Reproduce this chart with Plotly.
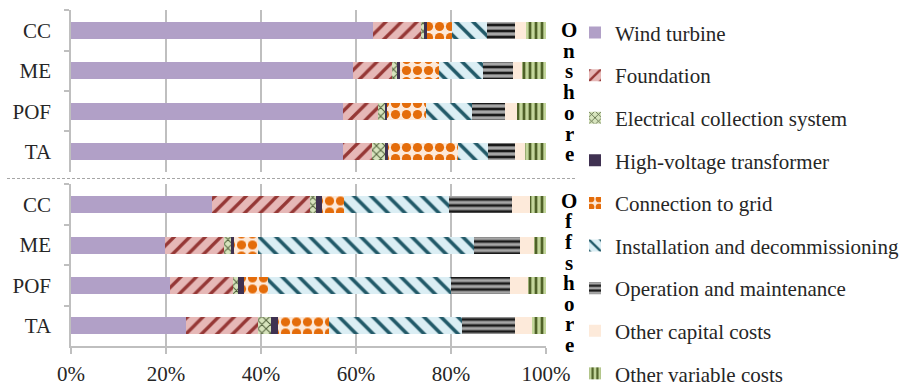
import plotly.graph_objects as go
from plotly.subplots import make_subplots

# Cost-share breakdown (%) of wind power, per allocation method
categories = ["CC", "ME", "POF", "TA"]
components = [
    "Wind turbine",
    "Foundation",
    "Electrical collection system",
    "High-voltage transformer",
    "Connection to grid",
    "Installation and decommissioning",
    "Operation and maintenance",
    "Other capital costs",
    "Other variable costs",
]

# One list per method, values in the order of `components`
onshore_cc = [63.6, 10.1, 0.6, 0.6, 5.4, 7.2, 6.0, 2.2, 4.3]
onshore_me = [59.3, 8.3, 1.0, 0.6, 8.3, 9.3, 6.3, 1.8, 5.1]
onshore_pof = [57.2, 7.5, 1.6, 0.3, 8.1, 9.8, 6.9, 2.4, 6.2]
onshore_ta = [57.2, 6.1, 2.9, 0.6, 14.6, 6.3, 5.8, 2.1, 4.4]

offshore_cc = [29.7, 20.6, 1.2, 1.3, 4.7, 22.1, 13.2, 3.8, 3.4]
offshore_me = [19.8, 12.4, 1.4, 0.7, 5.1, 45.5, 9.6, 3.0, 2.5]
offshore_pof = [20.8, 13.2, 1.1, 1.3, 5.1, 38.4, 12.5, 3.9, 3.7]
offshore_ta = [24.3, 15.1, 2.8, 1.4, 10.7, 28.1, 11.1, 3.6, 2.9]

x_ticks = [0, 20, 40, 60, 80, 100]

onshore = [onshore_cc, onshore_me, onshore_pof, onshore_ta]
offshore = [offshore_cc, offshore_me, offshore_pof, offshore_ta]

# Fill styles (pattern shape, foreground, background, size)
styles = [
    dict(shape="", fg="#B1A0C7", bg="#B1A0C7", size=8),
    dict(shape="/", fg="#953735", bg="#E6B8B7", size=11),
    dict(shape="x", fg="#4F5F3A", bg="#D7E4BD", size=6),
    dict(shape="", fg="#3F3151", bg="#3F3151", size=8),
    dict(shape=".", fg="#E46C0A", bg="#FDE9D9", size=11, solidity=0.55),
    dict(shape="\\", fg="#215968", bg="#DBEEF4", size=12),
    dict(shape="-", fg="#1A1A1A", bg="#A6A6A6", size=6, solidity=0.45),
    dict(shape="", fg="#FDEADA", bg="#FDEADA", size=8),
    dict(shape="|", fg="#4F6228", bg="#C3D69B", size=6, solidity=0.45),
]

SERIF = "Liberation Serif, Times New Roman, serif"
GRID = "#BFBFBF"
TXT = "#262626"

fig = make_subplots(rows=2, cols=1)

for row, table in ((1, onshore), (2, offshore)):
    for i, name in enumerate(components):
        st = styles[i]
        pattern = dict(shape=st["shape"], fgcolor=st["fg"], bgcolor=st["bg"],
                       size=st["size"], solidity=st.get("solidity", 0.3),
                       fillmode="replace")
        fig.add_trace(
            go.Bar(
                y=categories,
                x=[vals[i] for vals in table],
                name=name,
                orientation="h",
                legendgroup=name,
                showlegend=(row == 1),
                marker=dict(color=st["bg"], pattern=pattern, line=dict(width=0)),
                hovertemplate="%{y}: %{x:.1f}%<extra>" + name + "</extra>",
            ),
            row=row, col=1,
        )

fig.update_layout(
    barmode="stack",
    bargap=0.58,
    width=917, height=386,
    margin=dict(l=71, r=371, t=10, b=40),
    paper_bgcolor="white",
    plot_bgcolor="white",
    font=dict(family=SERIF, size=21, color=TXT),
    legend=dict(
        xref="container", yref="container",
        x=575 / 917, y=1 - 12.4 / 386,
        xanchor="left", yanchor="top",
        traceorder="grouped",
        tracegroupgap=12.3,
        maxheight=420,
        font=dict(family=SERIF, size=21, color=TXT),
        itemwidth=30,
        bgcolor="rgba(0,0,0,0)",
    ),
)

axis_common = dict(
    range=[0, 100],
    tickvals=x_ticks,
    showgrid=True,
    gridcolor=GRID,
    gridwidth=1.5,
    zeroline=False,
    fixedrange=True,
    automargin=False,
)
fig.update_xaxes(**axis_common, showticklabels=False, showline=False, ticks="", row=1, col=1)
fig.update_xaxes(
    **axis_common,
    ticktext=[f"{v}%" for v in x_ticks],
    tickmode="array",
    showline=True, linecolor=GRID, linewidth=1.5,
    ticks="outside", ticklen=6, tickcolor=GRID, tickwidth=1.5,
    ticklabelstandoff=2,
    tickfont=dict(family=SERIF, size=21, color=TXT),
    row=2, col=1,
)
fig.update_yaxes(
    categoryorder="array",
    categoryarray=categories,
    autorange="reversed",
    showline=True, linecolor=GRID, linewidth=1.5,
    ticks="outside", tickson="boundaries", ticklen=5, tickcolor=GRID, tickwidth=1.5,
    ticklabelstandoff=14,
    tickfont=dict(family=SERIF, size=21, color=TXT),
    showgrid=False,
    fixedrange=True,
    automargin=False,
)
fig.update_yaxes(domain=[0.5179, 1.0], row=1, col=1)
fig.update_yaxes(domain=[0.0, 0.4807], row=2, col=1)

# Dashed separator between the two groups
fig.add_shape(type="line", xref="paper", yref="paper",
              x0=-64 / 475, x1=506 / 475, y0=0.4985, y1=0.4985,
              line=dict(color="#A6A6A6", width=1.2, dash="3px,2px"))

# Vertical group titles, one letter per line (fixed-height boxes so the
# stacked letters sit tightly like a column of text)
x_letters = 498 / 475
for word, y_top, step in (("Onshore", 30, 20.7), ("Offshore", 200.7, 20.6)):
    for k, ch in enumerate(word):
        y_px = y_top + k * step
        fig.add_annotation(
            xref="paper", yref="paper",
            x=x_letters, y=(346 - y_px) / 336,
            text=f"<b>{ch}</b>", showarrow=False,
            font=dict(family=SERIF, size=21, color="#000000"),
            xanchor="center", yanchor="middle",
            height=20, valign="middle", borderpad=0,
        )

fig.write_html("out.html")
